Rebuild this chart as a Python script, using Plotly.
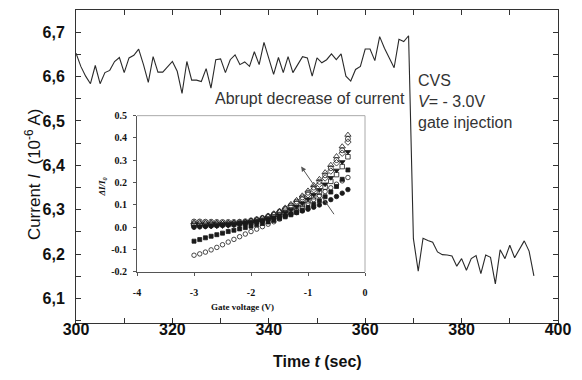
import plotly.graph_objects as go

# ---------------- main trace data ----------------
time_s = list(range(300, 396))
current = [
    6.653, 6.623, 6.601, 6.584, 6.625, 6.584, 6.609, 6.614, 6.634, 6.643,
    6.609, 6.642, 6.648, 6.662, 6.627, 6.587, 6.645, 6.610, 6.610, 6.623,
    6.634, 6.612, 6.562, 6.634, 6.592, 6.592, 6.589, 6.618, 6.574, 6.638,
    6.640, 6.609, 6.638, 6.649, 6.627, 6.633, 6.623, 6.656, 6.627, 6.677,
    6.642, 6.605, 6.643, 6.609, 6.645, 6.609, 6.627, 6.645, 6.642, 6.601,
    6.642, 6.631, 6.638, 6.651, 6.638, 6.651, 6.601, 6.590, 6.616, 6.623,
    6.662, 6.662, 6.636, 6.690, 6.664, 6.642, 6.620, 6.684, 6.679, 6.692,
    6.235, 6.162, 6.236, 6.231, 6.227, 6.205, 6.199, 6.198, 6.196, 6.173,
    6.190, 6.164, 6.190, 6.197, 6.156, 6.198, 6.193, 6.133, 6.210, 6.190,
    6.220, 6.192, 6.210, 6.230, 6.207, 6.151,
]

x_tickvals = [300, 310, 320, 330, 340, 350, 360, 370, 380, 390, 400]
x_ticktext = ["300", "", "320", "", "340", "", "360", "", "380", "", "400"]
y_tickvals = [6.05, 6.1, 6.15, 6.2, 6.25, 6.3, 6.35, 6.4, 6.45, 6.5, 6.55, 6.6, 6.65, 6.7]
y_ticktext = ["", "6,1", "", "6,2", "", "6,3", "", "6,4", "", "6,5", "", "6,6", "", "6,7"]

# ---------------- inset data ----------------
gate_v = [-3.0, -2.9, -2.8, -2.7, -2.6, -2.5, -2.4, -2.3, -2.2, -2.1, -2.0, -1.9, -1.8, -1.7,
          -1.6, -1.5, -1.4, -1.3, -1.2, -1.1, -1.0, -0.9, -0.8, -0.7, -0.6, -0.5, -0.4, -0.3]
dI_tri_up = [0.022, 0.022, 0.021, 0.021, 0.020, 0.020, 0.020, 0.021, 0.022, 0.025, 0.030, 0.036, 0.043, 0.052,
             0.062, 0.074, 0.088, 0.104, 0.122, 0.142, 0.164, 0.189, 0.216, 0.246, 0.279, 0.318, 0.362, 0.414]
dI_circ_top = [0.026, 0.026, 0.025, 0.025, 0.024, 0.024, 0.024, 0.024, 0.025, 0.027, 0.031, 0.036, 0.042, 0.050,
               0.059, 0.070, 0.083, 0.098, 0.115, 0.134, 0.155, 0.178, 0.204, 0.233, 0.265, 0.301, 0.345, 0.396]
dI_diam = [0.015, 0.015, 0.015, 0.015, 0.015, 0.016, 0.016, 0.017, 0.019, 0.022, 0.026, 0.031, 0.037, 0.045,
           0.054, 0.065, 0.078, 0.092, 0.108, 0.126, 0.146, 0.168, 0.193, 0.221, 0.252, 0.289, 0.332, 0.382]
dI_tri_down = [0.002, 0.003, 0.003, 0.004, 0.005, 0.006, 0.007, 0.009, 0.011, 0.014, 0.018, 0.023, 0.029, 0.036,
               0.044, 0.054, 0.065, 0.078, 0.092, 0.108, 0.126, 0.146, 0.168, 0.193, 0.222, 0.255, 0.293, 0.338]
dI_sq_open = [0.010, 0.010, 0.010, 0.011, 0.011, 0.012, 0.013, 0.014, 0.016, 0.019, 0.022, 0.027, 0.032, 0.039,
              0.046, 0.055, 0.065, 0.076, 0.089, 0.103, 0.119, 0.137, 0.157, 0.180, 0.206, 0.236, 0.272, 0.316]
dI_sq_fill = [-0.062, -0.055, -0.047, -0.040, -0.033, -0.026, -0.019, -0.013, -0.007, -0.001, 0.005, 0.011, 0.017, 0.024,
              0.031, 0.039, 0.047, 0.056, 0.066, 0.077, 0.089, 0.103, 0.119, 0.137, 0.158, 0.183, 0.215, 0.257]
dI_circ_low = [-0.125, -0.119, -0.111, -0.101, -0.090, -0.078, -0.066, -0.054, -0.042, -0.030, -0.019, -0.008, 0.003, 0.014,
               0.025, 0.037, 0.049, 0.062, 0.076, 0.091, 0.107, 0.124, 0.142, 0.160, 0.177, 0.193, 0.208, 0.223]
dI_circ_fill = [0.000, 0.002, 0.004, 0.006, 0.008, 0.010, 0.012, 0.014, 0.017, 0.019, 0.022, 0.026, 0.030, 0.035,
                0.040, 0.045, 0.052, 0.059, 0.066, 0.073, 0.081, 0.090, 0.100, 0.111, 0.124, 0.138, 0.153, 0.169]

inset_x_ticks = [-4, -3, -2, -1, 0]
inset_y_ticks = [-0.2, -0.1, 0.0, 0.1, 0.2, 0.3, 0.4, 0.5]

inset_series = [
    (dI_circ_fill, "circle", 4.5),
    (dI_circ_low, "circle-open", 4.5),
    (dI_sq_fill, "square", 4),
    (dI_sq_open, "square-open", 4.5),
    (dI_tri_down, "triangle-down", 5),
    (dI_diam, "diamond-open", 5),
    (dI_circ_top, "circle-open", 5),
    (dI_tri_up, "triangle-up-open", 5.5),
]

SANS = "Liberation Sans, Arial, sans-serif"
SERIF = "Liberation Serif, Times New Roman, serif"

fig = go.Figure()
fig.add_trace(go.Scatter(x=time_s, y=current, mode="lines",
                         line=dict(color="#2a2a2a", width=1.1),
                         xaxis="x", yaxis="y", showlegend=False, hoverinfo="skip"))

for vals, sym, sz in inset_series:
    fig.add_trace(go.Scatter(x=gate_v, y=vals, mode="markers",
                             marker=dict(symbol=sym, size=sz, color="#1a1a1a",
                                         line=dict(color="#1a1a1a", width=0.8)),
                             xaxis="x2", yaxis="y2", showlegend=False, hoverinfo="skip"))

fig.update_layout(
    width=582, height=380,
    margin=dict(l=76, r=24, t=4, b=57),
    paper_bgcolor="white", plot_bgcolor="white",
    font=dict(family=SANS, color="#111"),
    xaxis=dict(range=[300, 400], tickvals=x_tickvals, ticktext=x_ticktext,
               ticks="inside", ticklen=5, tickcolor="#333", showline=True, linecolor="#333",
               linewidth=1, mirror="ticks", showgrid=False, zeroline=False,
               tickfont=dict(size=16, family=SANS, weight="bold", color="#111"),
               ticklabelstandoff=-8, domain=[0, 1]),
    yaxis=dict(range=[6.045, 6.75], tickvals=y_tickvals, ticktext=y_ticktext,
               ticks="inside", ticklen=5, tickcolor="#333", showline=True, linecolor="#333",
               linewidth=1, mirror="ticks", showgrid=False, zeroline=False,
               tickfont=dict(size=16, family=SANS, weight="bold", color="#111"),
               ticklabelstandoff=7, domain=[0, 1]),
    xaxis2=dict(range=[-4, 0], tickvals=inset_x_ticks, ticktext=[str(v) for v in inset_x_ticks],
                domain=[0.1266, 0.5996], anchor="y2",
                ticks="outside", ticklen=3, tickcolor="#555", showline=True, linecolor="#555",
                linewidth=1, showgrid=False, zeroline=False, ticklabelstandoff=8,
                tickfont=dict(size=10, family=SERIF, weight="bold", color="#111")),
    yaxis2=dict(range=[-0.2, 0.5], tickvals=inset_y_ticks,
                ticktext=["%.1f" % v for v in inset_y_ticks],
                domain=[0.163, 0.6624], anchor="x2",
                ticks="outside", ticklen=3, tickcolor="#555", showline=True, linecolor="#555",
                linewidth=1, showgrid=False, zeroline=False, ticklabelstandoff=4,
                tickfont=dict(size=10, family=SERIF, weight="bold", color="#111")),
    shapes=[
        dict(type="line", xref="x2 domain", yref="y2 domain", x0=0, x1=1, y0=1, y1=1,
             line=dict(color="#aaa", width=1)),
        dict(type="line", xref="x2 domain", yref="y2 domain", x0=1, x1=1, y0=0, y1=1,
             line=dict(color="#aaa", width=1)),
    ],
    annotations=[
        dict(text="Time <i>t</i> (sec)", xref="paper", yref="paper", x=0.5, y=-0.122,
             xanchor="center", yanchor="middle", showarrow=False,
             font=dict(size=16, family=SANS, weight="bold", color="#111")),
        dict(text="Current <i>I</i>  (10<sup>-6</sup> A)", xref="paper", yref="paper",
             x=-0.089, y=0.476, xanchor="center", yanchor="middle", textangle=-90,
             showarrow=False, font=dict(size=17, family=SANS, color="#111")),
        dict(text="Abrupt decrease of current", xref="x", yref="y", x=348.5, y=6.55,
             xanchor="center", yanchor="middle", showarrow=False,
             font=dict(size=16, family=SANS, color="#333")),
        dict(text="CVS<br><i>V</i>= - 3.0V<br>gate injection", xref="x", yref="y", x=370.6, y=6.545,
             xanchor="left", yanchor="middle", align="left", showarrow=False,
             font=dict(size=16, family=SANS, color="#333")),
        dict(text="Gate voltage (V)", xref="paper", yref="paper", x=(242 - 76) / 482, y=(323 - 307) / 319,
             xanchor="center", yanchor="middle", showarrow=False,
             font=dict(size=9, family=SERIF, weight="bold", color="#111")),
        dict(text="<i>ΔI/I<sub>0</sub></i>", xref="paper", yref="paper", x=(103 - 76) / 482, y=(323 - 184) / 319,
             xanchor="center", yanchor="middle", textangle=-90, showarrow=False,
             font=dict(size=9, family=SERIF, weight="bold", color="#111")),
        dict(x=-1.12, y=0.272, ax=-0.526, ay=0.052, xref="x2", yref="y2", axref="x2", ayref="y2",
             showarrow=True, arrowhead=2, arrowsize=1, arrowwidth=1, arrowcolor="#555", text=""),
    ],
)

fig.write_html("out.html", config={"displayModeBar": False},
               post_script="document.body.style.margin='0';")
